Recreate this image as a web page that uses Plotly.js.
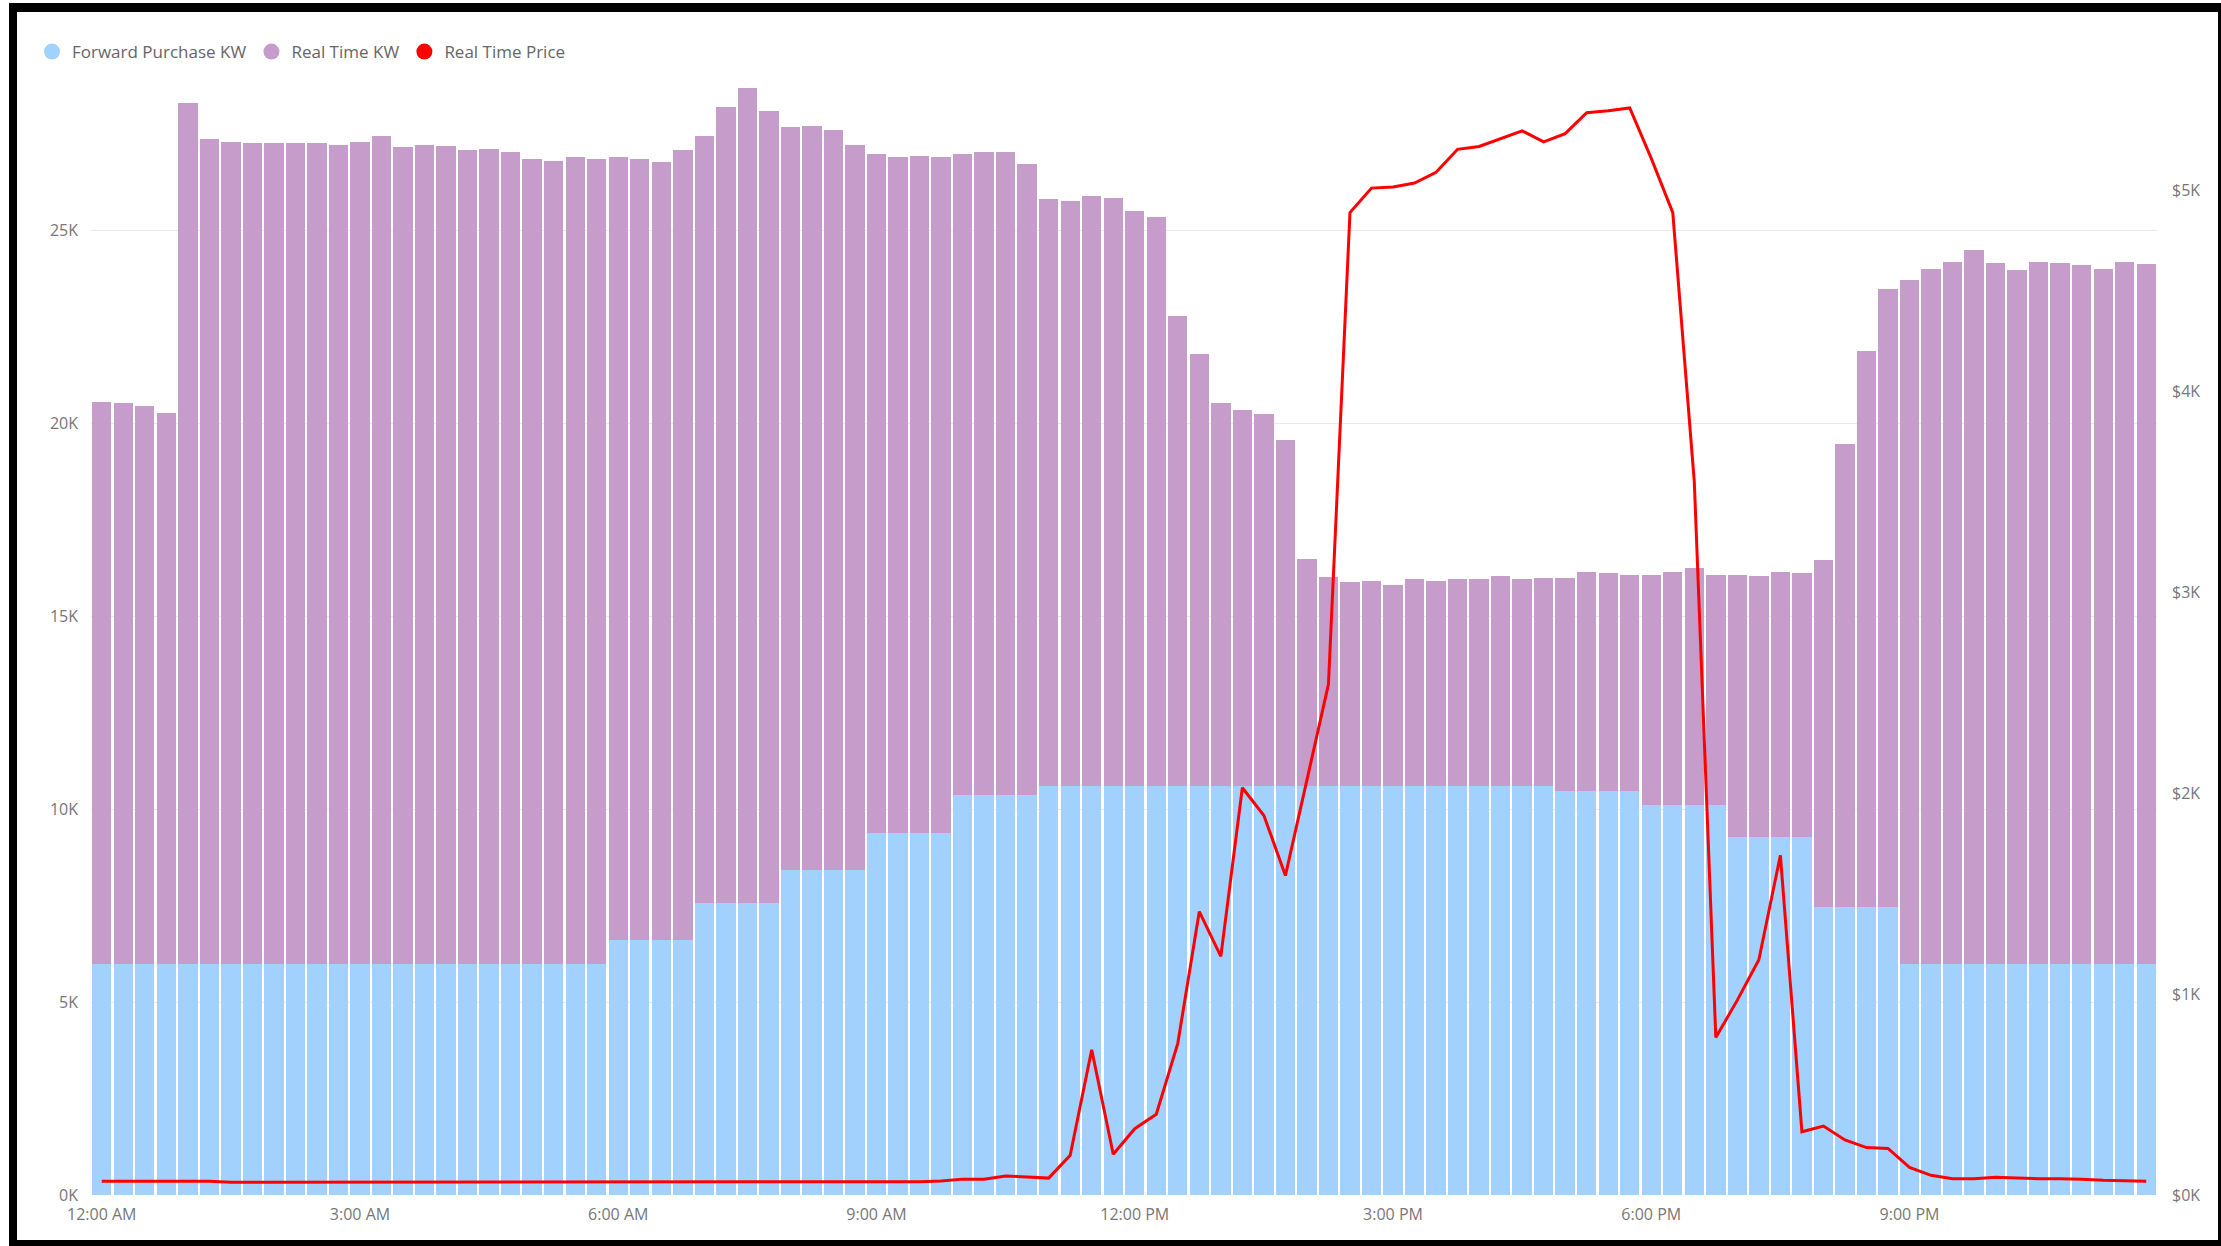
<!DOCTYPE html>
<html>
<head>
<meta charset="utf-8">
<script src="https://cdn.plot.ly/plotly-3.0.1.min.js"></script>
<style>
  html, body { margin: 0; padding: 0; background: #ffffff; }
  #wrap { position: relative; width: 2221px; height: 1246px; overflow: hidden; }
  #chart { position: absolute; left: 0; top: 0; width: 2221px; height: 1246px; }
  #frame {
    position: absolute; left: 9px; top: 3px; width: 2212px; height: 1243px;
    box-sizing: border-box; pointer-events: none;
    border-left: 8px solid #000; border-top: 9px solid #000;
    border-right: 3px solid #000; border-bottom: 6px solid #000;
  }
</style>
</head>
<body>
<div id="wrap">
  <div id="chart"></div>
  <div id="frame"></div>
</div>
<script>
// 15-minute intervals over one day
var times = [
  "12:00 AM","12:15 AM","12:30 AM","12:45 AM","1:00 AM","1:15 AM","1:30 AM","1:45 AM",
  "2:00 AM","2:15 AM","2:30 AM","2:45 AM","3:00 AM","3:15 AM","3:30 AM","3:45 AM",
  "4:00 AM","4:15 AM","4:30 AM","4:45 AM","5:00 AM","5:15 AM","5:30 AM","5:45 AM",
  "6:00 AM","6:15 AM","6:30 AM","6:45 AM","7:00 AM","7:15 AM","7:30 AM","7:45 AM",
  "8:00 AM","8:15 AM","8:30 AM","8:45 AM","9:00 AM","9:15 AM","9:30 AM","9:45 AM",
  "10:00 AM","10:15 AM","10:30 AM","10:45 AM","11:00 AM","11:15 AM","11:30 AM","11:45 AM",
  "12:00 PM","12:15 PM","12:30 PM","12:45 PM","1:00 PM","1:15 PM","1:30 PM","1:45 PM",
  "2:00 PM","2:15 PM","2:30 PM","2:45 PM","3:00 PM","3:15 PM","3:30 PM","3:45 PM",
  "4:00 PM","4:15 PM","4:30 PM","4:45 PM","5:00 PM","5:15 PM","5:30 PM","5:45 PM",
  "6:00 PM","6:15 PM","6:30 PM","6:45 PM","7:00 PM","7:15 PM","7:30 PM","7:45 PM",
  "8:00 PM","8:15 PM","8:30 PM","8:45 PM","9:00 PM","9:15 PM","9:30 PM","9:45 PM",
  "10:00 PM","10:15 PM","10:30 PM","10:45 PM","11:00 PM","11:15 PM","11:30 PM","11:45 PM"
];

var forwardPurchaseKW = [
  5990,5990,5990,5990,5990,5990,5990,5990,5990,5990,5990,5990,
  5990,5990,5990,5990,5990,5990,5990,5990,5990,5990,5990,5990,
  6600,6600,6600,6600,7580,7580,7580,7580,8420,8420,8420,8420,
  9390,9390,9390,9390,10370,10370,10370,10370,10590,10590,10590,10590,
  10590,10590,10590,10590,10590,10590,10590,10590,10590,10590,10590,10590,
  10590,10590,10590,10590,10590,10590,10590,10590,10470,10470,10470,10470,
  10110,10110,10110,10110,9270,9270,9270,9270,7460,7460,7460,7460,
  5990,5990,5990,5990,5990,5990,5990,5990,5990,5990,5990,5990
];

var realTimeKW = [
  14570,14530,14460,14270,22310,21380,21300,21270,21270,21270,21270,21230,
  21300,21460,21160,21230,21190,21080,21120,21050,20860,20810,20900,20860,
  20290,20250,20170,20470,19870,20610,21110,20510,19250,19290,19180,18800,
  17580,17500,17540,17500,16600,16670,16670,16340,15210,15180,15310,15250,
  14910,14760,12180,11210,9940,9750,9640,8980,5900,5420,5300,5330,
  5220,5380,5330,5380,5380,5450,5380,5410,5530,5680,5640,5600,
  5960,6040,6150,5960,6800,6770,6880,6840,8990,12010,14420,16020,
  17720,18020,18200,18500,18170,17980,18200,18170,18100,18020,18200,18130
];

var realTimePrice = [
  69,69,69,69,68,68,64,64,64,64,64,64,
  64,64,64,64,64,64,64,64,64,64,64,66,
  67,67,67,67,67,67,67,67,66,66,66,66,
  66,66,66,70,79,79,94,90,84,198,723,203,
  330,402,755,1411,1188,2027,1889,1590,2070,2542,4890,5012,
  5018,5037,5091,5205,5219,5258,5297,5242,5283,5387,5397,5411,
  5160,4890,3550,784,970,1171,1691,315,343,274,236,232,
  137,98,81,81,88,85,81,81,79,73,71,69
];

var xTickVals = ["12:00 AM","3:00 AM","6:00 AM","9:00 AM","12:00 PM","3:00 PM","6:00 PM","9:00 PM"];
var yTickVals = [0, 5000, 10000, 15000, 20000, 25000];
var yTickText = ["0K","5K","10K","15K","20K","25K"];
var y2TickVals = [0, 1000, 2000, 3000, 4000, 5000];
var y2TickText = ["$0K","$1K","$2K","$3K","$4K","$5K"];

var seriesNames = ["Forward Purchase KW", "Real Time KW", "Real Time Price"];
var colBlue = "#A3D1FE", colPurple = "#C69CCB", colRed = "#FF0000";

var FONT = "Segoe UI, 'Open Sans', sans-serif";

var traces = [
  { type: "bar", x: times, y: forwardPurchaseKW, name: seriesNames[0],
    marker: { color: colBlue, line: { width: 0 } }, showlegend: false, hoverinfo: "x+y+name" },
  { type: "bar", x: times, y: realTimeKW, name: seriesNames[1],
    marker: { color: colPurple, line: { width: 0 } }, showlegend: false, hoverinfo: "x+y+name" },
  { type: "scatter", mode: "lines", x: times, y: realTimePrice, yaxis: "y2", name: seriesNames[2],
    line: { color: colRed, width: 3, shape: "linear" }, showlegend: false },
  // legend entries (round markers, as in the reference)
  { type: "scatter", mode: "markers", x: [null], y: [null], name: seriesNames[0],
    marker: { symbol: "circle", size: 17, color: colBlue }, showlegend: true, hoverinfo: "skip" },
  { type: "scatter", mode: "markers", x: [null], y: [null], name: seriesNames[1],
    marker: { symbol: "circle", size: 17, color: colPurple }, showlegend: true, hoverinfo: "skip" },
  { type: "scatter", mode: "markers", x: [null], y: [null], name: seriesNames[2],
    marker: { symbol: "circle", size: 17, color: colRed }, showlegend: true, hoverinfo: "skip" }
];

var layout = {
  width: 2221, height: 1246,
  paper_bgcolor: "#ffffff", plot_bgcolor: "#ffffff",
  margin: { l: 91, r: 64, t: 75.5, b: 50.5, pad: 0 },
  barmode: "stack", bargap: 0.1,
  font: { family: FONT, size: 16, color: "#777777" },
  showlegend: true,
  legend: {
    orientation: "h", xref: "container", yref: "container",
    x: 32 / 2221, xanchor: "left", y: 1 - 52 / 1246, yanchor: "middle",
    font: { family: FONT, size: 17, color: "#666666" },
    itemwidth: 30, traceorder: "normal", bgcolor: "rgba(0,0,0,0)", borderwidth: 0,
    itemclick: false
  },
  xaxis: {
    type: "category", categoryorder: "array", categoryarray: times,
    range: [-0.5, 95.5], autorange: false,
    tickmode: "array", tickvals: xTickVals, ticktext: xTickVals,
    showgrid: false, zeroline: false, showline: false, ticks: "",
    tickfont: { family: FONT, size: 16, color: "#777777" },
    ticklabelstandoff: 8, fixedrange: true
  },
  yaxis: {
    range: [0, 29000], autorange: false,
    tickmode: "array", tickvals: yTickVals, ticktext: yTickText,
    showgrid: true, gridcolor: "#EAEAEA", gridwidth: 1,
    zeroline: false, showline: false, ticks: "",
    tickfont: { family: FONT, size: 16, color: "#777777" },
    ticklabelstandoff: 12, fixedrange: true
  },
  yaxis2: {
    overlaying: "y", side: "right",
    range: [0, 5570], autorange: false,
    tickmode: "array", tickvals: y2TickVals, ticktext: y2TickText,
    showgrid: false, zeroline: false, showline: false, ticks: "",
    tickfont: { family: FONT, size: 16, color: "#777777" },
    ticklabelstandoff: 14, fixedrange: true
  }
};

Plotly.newPlot("chart", traces, layout, { displayModeBar: false, staticPlot: true });
</script>
</body>
</html>
